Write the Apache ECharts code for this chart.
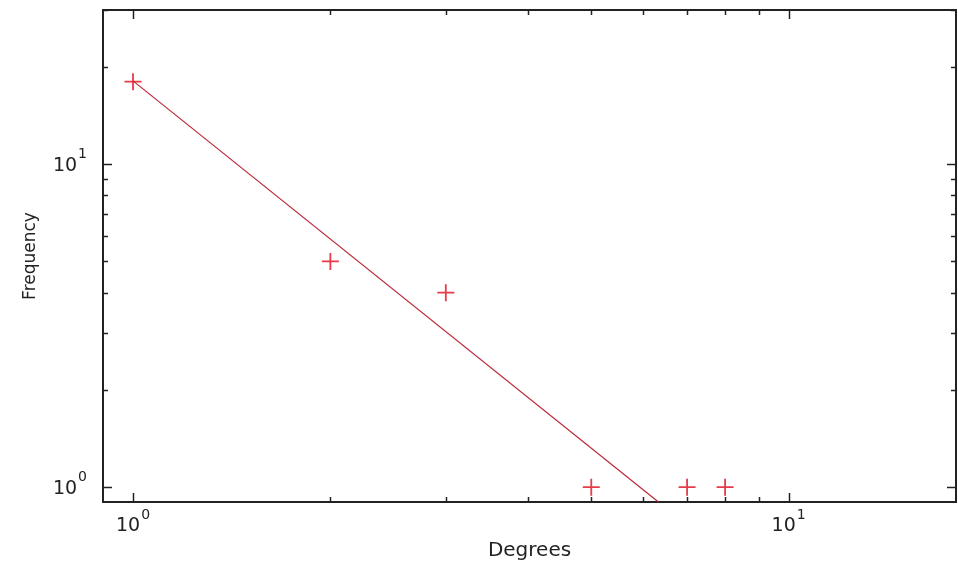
<!DOCTYPE html>
<html>
<head>
<meta charset="utf-8">
<script src="https://cdn.jsdelivr.net/npm/echarts@6/dist/echarts.min.js"></script>
<style>
  html, body { margin: 0; padding: 0; background: #fff; }
  #chart { width: 958px; height: 567px; }
</style>
</head>
<body>
<div id="chart"></div>
<script>
// Observed degree frequencies
const degrees = [1, 2, 3, 5, 7, 8];
const frequencies = [18, 5, 4, 1, 1, 1];

// Power-law fit, drawn between its two end points
const fitDegrees = [1, 6.33];
const fitFrequencies = [18.1, 0.9];

// Axis ranges
const xRange = [0.9, 18];
const yRange = [0.9, 30];

// Tick positions (log scale)
const xMajorTicks = [1, 10];
const xMinorTicks = [2, 3, 4, 5, 6, 7, 8, 9];
const yMajorTicks = [1, 10];
const yMinorTicks = [2, 3, 4, 5, 6, 7, 8, 9, 20, 30];

const FONT = 'DejaVu Sans';
const TEXT = '#222';

const pointData = degrees.map((d, i) => [d, frequencies[i]]);
const fitData = fitDegrees.map((d, i) => [d, fitFrequencies[i]]);

// kind: 0 x-major, 1 x-minor, 2 y-major, 3 y-minor
const tickData = []
  .concat(xMajorTicks.map(v => [v, 1, 0]))
  .concat(xMinorTicks.map(v => [v, 1, 1]))
  .concat(yMajorTicks.map(v => [1, v, 2]))
  .concat(yMinorTicks.map(v => [1, v, 3]));

function powerLabel(value) {
  const e = Math.round(Math.log10(value));
  if (Math.abs(Math.pow(10, e) - value) > 1e-9 * Math.max(1, value)) return '';
  return '{b|10}{s|' + e + '}';
}

const labelRich = {
  b: { fontFamily: FONT, fontSize: 19, color: TEXT, verticalAlign: 'bottom', lineHeight: 20 },
  s: { fontFamily: FONT, fontSize: 14, color: TEXT, verticalAlign: 'bottom', padding: [0, 0, 14, 1] }
};

const plusPath = 'path://M0,7.6 H7.6 V0 H9.4 V7.6 H17 V9.4 H9.4 V17 H7.6 V9.4 H0 Z';

const chart = echarts.init(document.getElementById('chart'));
chart.setOption({
  animation: false,
  backgroundColor: '#fff',
  grid: {
    left: 103, top: 10, right: 2, bottom: 65,
    show: true, borderColor: '#222', borderWidth: 2, backgroundColor: 'transparent',
    containLabel: false
  },
  xAxis: {
    type: 'log', logBase: 10, min: xRange[0], max: xRange[1],
    name: 'Degrees', nameLocation: 'middle', nameGap: 35,
    nameTextStyle: { fontFamily: FONT, fontSize: 20, color: TEXT },
    axisLine: { show: false }, axisTick: { show: false }, splitLine: { show: false },
    axisLabel: {
      margin: 6, formatter: powerLabel, rich: labelRich,
      showMinLabel: false, showMaxLabel: false
    }
  },
  yAxis: {
    type: 'log', logBase: 10, min: yRange[0], max: yRange[1],
    name: 'Frequency', nameLocation: 'middle', nameGap: 64, nameRotate: 90,
    nameTextStyle: { fontFamily: FONT, fontSize: 17, color: TEXT },
    axisLine: { show: false }, axisTick: { show: false }, splitLine: { show: false },
    axisLabel: {
      margin: 16, formatter: powerLabel, rich: labelRich, padding: [0, 0, 6, 0],
      showMinLabel: false, showMaxLabel: false
    }
  },
  series: [
    {
      type: 'custom',
      coordinateSystem: 'cartesian2d',
      silent: true,
      clip: false,
      z: 5,
      data: tickData,
      renderItem: function (params, api) {
        const cs = params.coordSys;
        const left = cs.x, top = cs.y, right = cs.x + cs.width, bottom = cs.y + cs.height;
        const kind = api.value(2);
        const len = (kind === 0 || kind === 2) ? 9 : 5;
        const style = { stroke: '#222', lineWidth: 1.5 };
        let a, b;
        if (kind < 2) {
          const px = Math.round(api.coord([api.value(0), 1])[0]) + 0.5;
          a = { x1: px, y1: bottom, x2: px, y2: bottom - len };
          b = { x1: px, y1: top, x2: px, y2: top + len };
        } else {
          const py = Math.round(api.coord([1, api.value(1)])[1]) + 0.5;
          a = { x1: left, y1: py, x2: left + len, y2: py };
          b = { x1: right, y1: py, x2: right - len, y2: py };
        }
        return {
          type: 'group',
          children: [
            { type: 'line', shape: a, style: style },
            { type: 'line', shape: b, style: style }
          ]
        };
      }
    },
    {
      type: 'line',
      data: fitData,
      showSymbol: false,
      symbol: 'none',
      clip: true,
      silent: true,
      lineStyle: { color: '#bb2838', width: 1.2 },
      z: 3
    },
    {
      type: 'scatter',
      data: pointData,
      symbol: plusPath,
      symbolSize: 17,
      itemStyle: { color: '#e00a1a' },
      silent: true,
      z: 4
    }
  ]
});
</script>
</body>
</html>
